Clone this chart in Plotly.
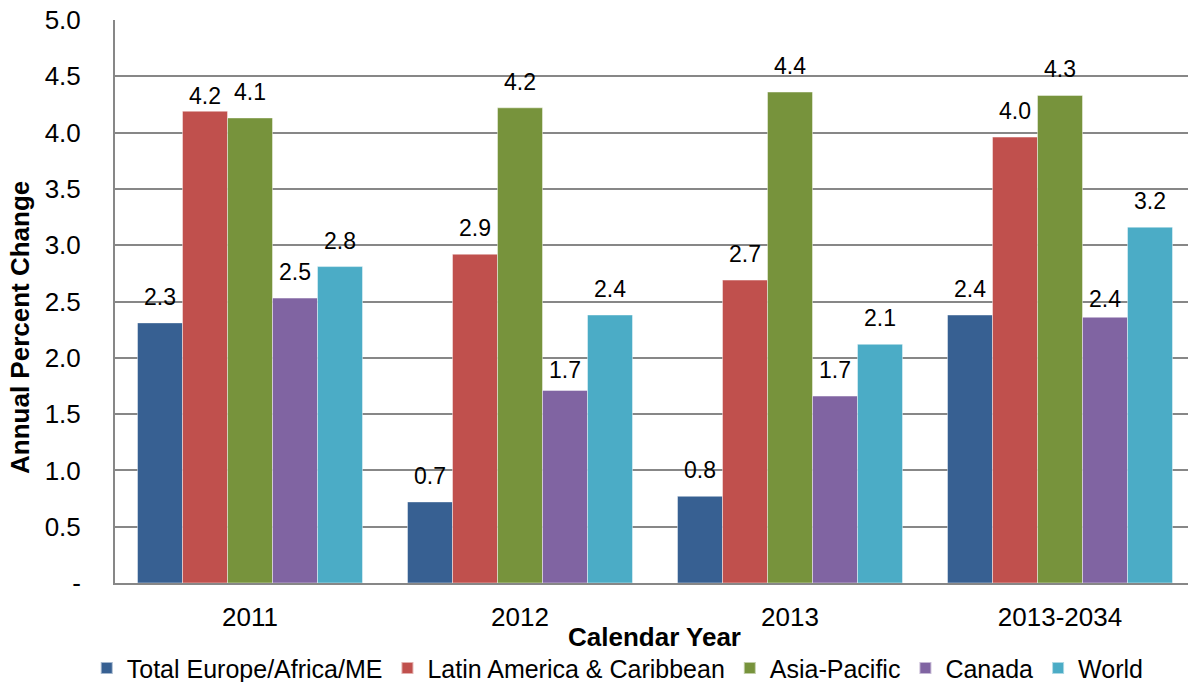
import plotly.graph_objects as go

# Categories and series (annual percent change)
years = ["2011", "2012", "2013", "2013-2034"]
regions = ["Total Europe/Africa/ME", "Latin America & Caribbean",
           "Asia-Pacific", "Canada", "World"]
europe_africa_me = [2.31, 0.72, 0.77, 2.38]
latin_america = [4.19, 2.92, 2.69, 3.96]
asia_pacific = [4.13, 4.22, 4.36, 4.33]
canada = [2.53, 1.71, 1.66, 2.36]
world = [2.81, 2.38, 2.12, 3.16]

y_tickvals = [0, 0.5, 1.0, 1.5, 2.0, 2.5, 3.0, 3.5, 4.0, 4.5, 5.0]
y_ticktext = ["-", "0.5", "1.0", "1.5", "2.0", "2.5", "3.0", "3.5", "4.0", "4.5", "5.0"]

series = [europe_africa_me, latin_america, asia_pacific, canada, world]
colors = ["#376092", "#C0504D", "#77933C", "#8064A2", "#4BACC6"]

FONT = "Liberation Sans, Arial, sans-serif"
GRID = "#878787"
BARGAP = 1 / 6

fig = go.Figure()
for name, vals, col in zip(regions, series, colors):
    fig.add_trace(go.Bar(
        x=years, y=vals, name=name,
        marker=dict(color=col, line=dict(color="rgba(255,255,255,0.55)", width=0.8)),
        hoverinfo="x+y+name",
    ))

# value labels above each bar, placed at the bar's slot inside its group
n = len(series)
slot = (1 - BARGAP) / n
label_lift = 11
nudges = {(1, 0): -11, (3, 1): -6, (3, 3): -8}  # (series, category): extra pixel shift
annotations = []
for j, vals in enumerate(series):
    for i, v in enumerate(vals):
        annotations.append(dict(
            x=i + (j - (n - 1) / 2) * slot, y=v, xref="x", yref="y",
            text=f"{v:.1f}", showarrow=False, yanchor="bottom",
            yshift=label_lift + nudges.get((j, i), 0),
            font=dict(family=FONT, size=23, color="#000000"),
        ))

# axis titles
annotations.append(dict(
    x=0.503, y=-0.096, xref="paper", yref="paper", text="<b>Calendar Year</b>",
    showarrow=False, yanchor="middle", xanchor="center",
    font=dict(family=FONT, size=26, color="#000000"),
))
annotations.append(dict(
    x=-0.0885, y=0.453, xref="paper", yref="paper", text="<b>Annual Percent Change</b>",
    showarrow=False, textangle=-90, xanchor="center", yanchor="middle",
    font=dict(family=FONT, size=26, color="#000000"),
))

fig.update_layout(
    width=1188, height=682, autosize=False,
    margin=dict(l=115, r=0, t=20, b=99, pad=0, autoexpand=False),
    paper_bgcolor="white", plot_bgcolor="white",
    barmode="group", bargap=BARGAP, bargroupgap=0,
    font=dict(family=FONT, size=26, color="#000000"),
    showlegend=True,
    legend=dict(
        orientation="h", xref="container", yref="container",
        x=0.52, y=0.02, xanchor="center", yanchor="middle",
        font=dict(family=FONT, size=25, color="#000000"),
        itemsizing="constant", traceorder="normal", itemwidth=30,
        tracegroupgap=0,
    ),
    annotations=annotations,
)
fig.update_xaxes(
    type="category", range=[-0.5, 3.5 - 7 / 270],
    showline=True, linecolor=GRID, linewidth=2,
    showgrid=False, ticks="", tickfont=dict(family=FONT, size=26),
    ticklabelstandoff=10, automargin=False,
)
fig.update_yaxes(
    range=[0, 5.0], tickvals=y_tickvals, ticktext=y_ticktext,
    showline=True, linecolor=GRID, linewidth=2,
    showgrid=True, gridcolor=GRID, gridwidth=1.5, zeroline=False,
    ticks="", tickfont=dict(family=FONT, size=26),
    ticklabelstandoff=27, automargin=False,
)

fig.write_html("out.html")
